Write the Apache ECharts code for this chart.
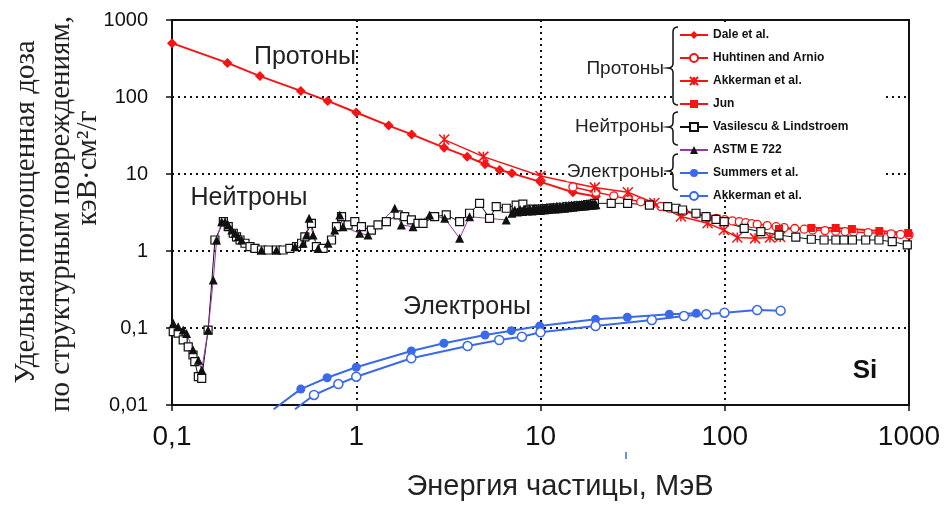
<!DOCTYPE html>
<html><head><meta charset="utf-8">
<script src="https://cdn.jsdelivr.net/npm/echarts@6.0.0/dist/echarts.min.js"></script>
<style>html,body{margin:0;padding:0;background:#fff}#c{width:946px;height:505px}</style>
</head><body><div id="c"></div>
<script>
// ---- tick labels ----
const xTickLabels = ['0,1', '1', '10', '100', '1000'];
const yTickLabels = ['0,01', '0,1', '1', '10', '100', '1000'];
const legendNames = ['Dale et al.', 'Huhtinen and Arnio', 'Akkerman et al.', 'Jun',
  'Vasilescu & Lindstroem', 'ASTM E 722', 'Summers et al.', 'Akkerman et al. '];

// ---- protons [E (MeV), D] ----
const dale = [[0.1,500],[0.2,277],[0.3,187],[0.5,120],[0.7,89],[1.0,63],[1.5,42.5],[2,32.7],[3,22],[4,16.8],
  [5,13.4],[6,11.3],[7,10.2],[10,7.9],[15,5.8],[20,5.1]];
const huhtinen = [[15,6.8],[20,5.8],[25,5.2],[30,4.7],[35,4.35],[40,4.05],[45,3.8],[50,3.6],[60,3.25],[70,3.0],
  [80,2.82],[90,2.66],[100,2.55],[110,2.46],[120,2.4],[130,2.33],[140,2.27],[150,2.22],[170,2.14],[190,2.07],
  [210,2.01],[240,1.96],[270,1.92],[300,1.88],[350,1.84],[400,1.81],[450,1.79],[500,1.77],[600,1.73],[700,1.70],
  [800,1.67],[900,1.64],[1000,1.62]];
const akkermanP = [[3,28],[4.9,16.8],[10,9.4],[19.7,6.7],[29.8,5.8],[41.5,4.2],[57.8,2.8],[80.7,2.29],[99,1.87],
  [117,1.5],[146,1.46],[176,1.5],[200,1.52]];
const jun = [[197,1.93],[295,1.99],[400,1.99],[490,1.93],[690,1.82],[990,1.71]];

// ---- neutrons ----
const vasilescu = [[0.1016,0.0895],[0.108,0.086],[0.115,0.070],[0.1225,0.057],[0.130,0.0446],[0.133,0.0365],
  [0.139,0.0233],[0.145,0.0222],[0.157,0.094],[0.171,1.39],[0.190,2.40],[0.202,2.07],[0.215,1.70],[0.224,1.53],
  [0.234,1.39],[0.249,1.26],[0.265,1.14],[0.282,1.08],[0.306,1.03],[0.333,1.03],[0.369,1.03],[0.401,1.03],
  [0.436,1.08],[0.474,1.14],[0.505,1.26],[0.526,1.53],[0.571,2.29],[0.608,1.14],[0.661,1.08],[0.734,1.39],
  [0.781,2.07],[0.832,2.79],[0.903,2.18],[0.982,2.40],[1.067,2.07],[1.208,1.87],[1.312,2.18],[1.457,2.40],
  [1.686,2.94],[1.832,2.79],[1.992,2.53],[2.163,2.29],[2.303,2.29],[2.663,2.79],[3.08,2.94],[3.64,2.40],
  [4.12,3.09],[4.67,4.16],[5.29,2.66],[5.75,3.76],[6.52,3.59],[7.38,3.95],[8.02,4.07],[8.5,3.4],[9.0,3.5],
  [9.5,3.45],[10,3.5],[10.5,3.55],[11,3.5],[11.5,3.6],[12,3.6],[13,3.7],[14,3.75],[15,3.8],[16,3.85],[17,3.9],
  [18,4.0],[19,4.05],[19.6,4.16],[24.2,4.16],[29.7,4.16],[39.0,3.95],[49.0,3.76],[54.3,3.59],[59.0,3.41],
  [69.8,3.09],[79.1,2.79],[89.6,2.58],[99.3,2.40],[127.5,1.97],[157,1.78],[197,1.61],[243,1.51],[295,1.42],
  [346,1.39],[401,1.39],[444,1.39],[493,1.39],[582,1.39],[687,1.39],[811,1.32],[979,1.20]];
const astm = [[0.1016,0.115],[0.108,0.104],[0.115,0.094],[0.120,0.085],[0.130,0.052],[0.139,0.038],[0.145,0.0285],
  [0.157,0.094],[0.1675,0.42],[0.1746,1.39],[0.186,2.40],[0.194,2.40],[0.202,2.18],[0.211,1.87],[0.220,1.70],
  [0.229,1.53],[0.239,1.39],[0.306,1.03],[0.369,1.03],[0.465,1.14],[0.515,1.26],[0.537,1.61],[0.555,2.66],
  [0.583,1.61],[0.621,1.08],[0.703,1.26],[0.764,1.87],[0.814,2.94],[0.848,2.07],[1.045,1.70],[1.158,1.61],
  [1.618,3.59],[1.758,2.18],[2.033,2.07],[2.502,2.94],[3.02,2.66],[3.64,1.46],[4.12,2.79],[6.52,2.53],
  [7.0,3.1],[7.25,3.4],[7.5,3.2],[7.75,3.45],[8.0,3.25],[8.25,3.5],[8.5,3.3],[8.75,3.55],[9.0,3.3],[9.25,3.6],
  [9.5,3.35],[9.75,3.6],[10.0,3.35],[10.25,3.65],[10.5,3.4],[10.75,3.7],[11.0,3.45],[11.25,3.7],[11.5,3.5],
  [11.75,3.75],[12.0,3.5],[12.25,3.8],[12.5,3.55],[12.75,3.8],[13.0,3.6],[13.25,3.85],[13.5,3.6],[13.75,3.9],
  [14.0,3.65],[14.25,3.9],[14.5,3.7],[14.75,3.95],[15.0,3.7],[15.25,3.95],[15.5,3.75],[15.75,4.0],[16.0,3.8],
  [16.25,4.0],[16.5,3.8],[16.75,4.05],[17.0,3.85],[17.25,4.05],[17.5,3.85],[17.75,4.1],[18.0,3.9],[18.25,4.1],
  [18.5,3.9],[18.75,4.15],[19.0,3.95],[19.25,4.15],[19.5,3.95],[19.75,4.15],[20.0,4.0]];

// ---- electrons (first entry is the curve's start below the axis, drawn without a marker) ----
const summers = [[0.356,0.0088],[0.5,0.0161],[0.695,0.0226],[1.0,0.0309],[1.99,0.0503],[2.99,0.0633],[5.0,0.0811],
  [6.95,0.0923],[9.9,0.106],[19.9,0.130],[29.6,0.138],[50,0.151],[70.1,0.155]];
const akkermanE = [[0.465,0.0088],[0.59,0.0135],[0.80,0.0187],[1.0,0.0233],[1.99,0.0404],[4.02,0.0583],[5.97,0.0698],
  [7.93,0.0771],[10,0.0879],[19.9,0.106],[40.2,0.127],[60.1,0.143],[79.4,0.151],[99.6,0.158],[150,0.171],[201,0.168]];

const RED = '#f51414', BLUE = '#3a6ae8', PURPLE = '#9a35a8', BLACK = '#111';
const FONT = '"Liberation Sans", Arial, sans-serif';
const SERIF = '"Liberation Serif", "Times New Roman", serif';

function hideFirst(arr) {
  return arr.map((p, i) => i === 0 ? { value: p, symbol: 'none' } : p);
}

// curly brace outline as a polyline (decoration only)
function bracePoints(x, top, mid, bottom) {
  const pts = [];
  const quad = (p0, p1, p2) => { for (let t = 0; t <= 1.0001; t += 0.2) {
    const a = (1 - t) * (1 - t), b = 2 * (1 - t) * t, c = t * t;
    pts.push([a * p0[0] + b * p1[0] + c * p2[0], a * p0[1] + b * p1[1] + c * p2[1]]); } };
  const xr = x + 5, xm = x, xl = x - 5;
  quad([xr, top], [xm, top], [xm, top + 5]);
  quad([xm, mid - 5], [xm, mid], [xl, mid]);
  quad([xl, mid], [xm, mid], [xm, mid + 5]);
  quad([xm, bottom - 5], [xm, bottom], [xr, bottom]);
  return pts;
}

const chart = echarts.init(document.getElementById('c'), null, { renderer: 'canvas' });
const dotted = { color: BLACK, width: 2, type: [2, 4] };

chart.setOption({
  animation: false,
  backgroundColor: '#fff',
  grid: { left: 172, right: 37, top: 20, bottom: 100, show: true, borderColor: BLACK, borderWidth: 2, backgroundColor: 'transparent' },
  xAxis: {
    type: 'log', logBase: 10, min: 0.1, max: 1000,
    axisLine: { lineStyle: { color: BLACK, width: 2 } },
    axisTick: { show: true, length: 6, lineStyle: { color: BLACK, width: 1.5 } },
    minorTick: { show: false },
    splitLine: { show: true, lineStyle: dotted },
    axisLabel: { margin: 18, fontSize: 28, fontFamily: FONT, color: BLACK,
      formatter: v => xTickLabels[Math.round(Math.log10(v)) + 1] ?? '' }
  },
  yAxis: {
    type: 'log', logBase: 10, min: 0.01, max: 1000,
    axisLine: { lineStyle: { color: BLACK, width: 2 } },
    axisTick: { show: true, length: 6, lineStyle: { color: BLACK, width: 1.5 } },
    splitLine: { show: true, lineStyle: dotted },
    axisLabel: { margin: 24, fontSize: 20, fontFamily: FONT, color: BLACK,
      formatter: v => yTickLabels[Math.round(Math.log10(v)) + 2] ?? '' }
  },
  legend: {
    orient: 'vertical', left: 679, top: 29, itemWidth: 28, itemHeight: 10, itemGap: 11,
    padding: 0, selectedMode: false,
    data: legendNames,
    textStyle: { fontFamily: FONT, fontWeight: 'bold', fontSize: 12, color: BLACK }
  },
  series: [
    { name: legendNames[0], type: 'line', data: dale, symbol: 'diamond', symbolSize: 10,
      lineStyle: { color: RED, width: 2 }, itemStyle: { color: RED } },
    { name: legendNames[1], type: 'line', data: huhtinen, symbol: 'circle', symbolSize: 8,
      lineStyle: { color: RED, width: 1.5 }, itemStyle: { color: '#fff', borderColor: RED, borderWidth: 1.3 } },
    { name: legendNames[2], type: 'line', data: akkermanP, symbol: 'path://M0,0L10,10M10,0L0,10M5,0L5,10', symbolSize: 10,
      lineStyle: { color: RED, width: 1.5 }, itemStyle: { color: RED, borderColor: RED, borderWidth: 1.5 } },
    { name: legendNames[3], type: 'line', data: jun, symbol: 'rect', symbolSize: 8,
      lineStyle: { color: RED, width: 2 }, itemStyle: { color: RED } },
    { name: legendNames[4], type: 'line', data: vasilescu, symbol: 'rect', symbolSize: 8,
      lineStyle: { color: BLACK, width: 1 }, itemStyle: { color: '#fff', borderColor: BLACK, borderWidth: 1.2 } },
    { name: legendNames[5], type: 'line', data: astm, symbol: 'triangle', symbolSize: 9,
      lineStyle: { color: PURPLE, width: 1 }, itemStyle: { color: BLACK } },
    { name: legendNames[6], type: 'line', data: hideFirst(summers), symbol: 'circle', symbolSize: 9, clip: false,
      lineStyle: { color: BLUE, width: 2 }, itemStyle: { color: BLUE } },
    { name: legendNames[7], type: 'line', data: hideFirst(akkermanE), symbol: 'circle', symbolSize: 9, clip: false,
      lineStyle: { color: BLUE, width: 2 }, itemStyle: { color: '#fff', borderColor: BLUE, borderWidth: 1.5 } }
  ],
  graphic: [
    { type: 'rect', z: 1, shape: { x: 676, y: 22, width: 206, height: 168 }, style: { fill: '#fff' } },
    { type: 'polyline', z: 10, shape: { points: bracePoints(673, 27, 68, 105) }, style: { stroke: BLACK, fill: null, lineWidth: 1.5 } },
    { type: 'polyline', z: 10, shape: { points: bracePoints(673, 112, 127, 145) }, style: { stroke: BLACK, fill: null, lineWidth: 1.5 } },
    { type: 'polyline', z: 10, shape: { points: bracePoints(673, 154, 171, 190) }, style: { stroke: BLACK, fill: null, lineWidth: 1.5 } },
    { type: 'text', z: 10, x: 664, y: 69, style: { text: 'Протоны', font: '19px ' + FONT, fill: '#222', align: 'right', verticalAlign: 'middle' } },
    { type: 'text', z: 10, x: 664, y: 127, style: { text: 'Нейтроны', font: '19px ' + FONT, fill: '#222', align: 'right', verticalAlign: 'middle' } },
    { type: 'text', z: 10, x: 664, y: 172, style: { text: 'Электроны', font: '19px ' + FONT, fill: '#222', align: 'right', verticalAlign: 'middle', backgroundColor: '#fff' } },
    { type: 'text', z: 10, x: 305, y: 57, style: { text: 'Протоны', font: '25px ' + FONT, fill: '#222', align: 'center', verticalAlign: 'middle' } },
    { type: 'text', z: 10, x: 249, y: 198, style: { text: 'Нейтроны', font: '25px ' + FONT, fill: '#222', align: 'center', verticalAlign: 'middle' } },
    { type: 'text', z: 10, x: 467, y: 307, style: { text: 'Электроны', font: '25px ' + FONT, fill: '#222', align: 'center', verticalAlign: 'middle' } },
    { type: 'text', z: 10, x: 865, y: 371, style: { text: 'Si', font: 'bold 26px ' + FONT, fill: '#111', align: 'center', verticalAlign: 'middle' } },
    { type: 'text', z: 10, x: 560, y: 487, style: { text: 'Энергия частицы, МэВ', font: '29px ' + FONT, fill: '#222', align: 'center', verticalAlign: 'middle' } },
    { type: 'text', z: 10, x: 26, y: 212, rotation: Math.PI / 2, style: { text: 'Удельная поглощенная доза', font: '29px ' + SERIF, fill: '#222', align: 'center', verticalAlign: 'middle' } },
    { type: 'text', z: 10, x: 61, y: 214, rotation: Math.PI / 2, style: { text: 'по структурным повреждениям,', font: '29px ' + SERIF, fill: '#222', align: 'center', verticalAlign: 'middle' } },
    { type: 'text', z: 10, x: 88, y: 168, rotation: Math.PI / 2, style: { text: 'кэВ·см²/г', font: '29px ' + SERIF, fill: '#222', align: 'center', verticalAlign: 'middle' } },
    { type: 'line', z: 10, shape: { x1: 626, y1: 452, x2: 626, y2: 459 }, style: { stroke: BLUE, lineWidth: 1.5 } }
  ]
});
</script>
</body></html>
